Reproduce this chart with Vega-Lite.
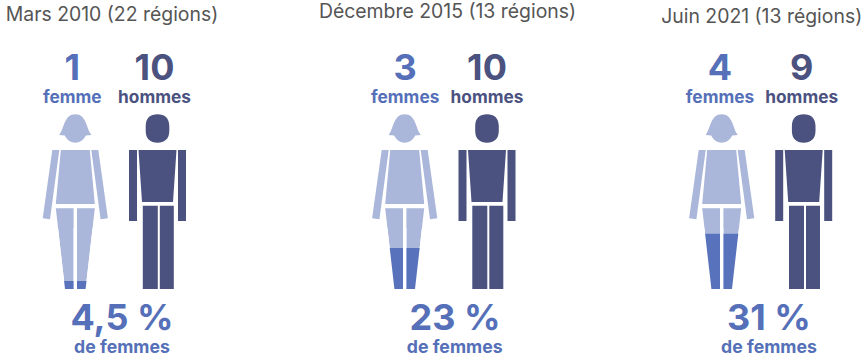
{"$schema":"https://vega.github.io/schema/vega-lite/v6.json","padding":0,"spacing":0,"bounds":"flush","background":"white","config":{"view":{"stroke":null},"axis":{"disable":true},"text":{"font":"Inter"}},
"data":{"values":[
{"periode":"Mars 2010 (22 régions)","sexe":"femmes","nombre":1,"libelle":"femme","part":4.5,"part_texte":"4,5 %"},
{"periode":"Mars 2010 (22 régions)","sexe":"hommes","nombre":10,"libelle":"hommes","part":95.5,"part_texte":"95,5 %"},
{"periode":"Décembre 2015 (13 régions)","sexe":"femmes","nombre":3,"libelle":"femmes","part":23,"part_texte":"23 %"},
{"periode":"Décembre 2015 (13 régions)","sexe":"hommes","nombre":10,"libelle":"hommes","part":77,"part_texte":"77 %"},
{"periode":"Juin 2021 (13 régions)","sexe":"femmes","nombre":4,"libelle":"femmes","part":31,"part_texte":"31 %"},
{"periode":"Juin 2021 (13 régions)","sexe":"hommes","nombre":9,"libelle":"hommes","part":69,"part_texte":"69 %"}
]},
"hconcat":[
{"width":283,"height":359,"transform":[{"filter":"datum.periode=='Mars 2010 (22 régions)'"}],
"encoding":{"x":{"field":"sexe","type":"nominal","scale":{"type":"point","padding":0,"domain":["femmes","hommes"],"range":[75.3,157.5]}}},
"layer":[
{"transform":[{"filter":"datum.sexe=='femmes'"}],"mark":{"type":"point","filled":true,"opacity":1,"size":40000,"fill":"#AAB7DA","strokeWidth":0,"shape":"M -0.16 -0.65 L -0.155 -0.66 C -0.11 -0.72 -0.11 -0.857 0 -0.857 C 0.11 -0.857 0.11 -0.72 0.155 -0.66 L 0.16 -0.65 L 0.105 -0.645 C 0.08 -0.595 0.04 -0.573 0 -0.573 C -0.04 -0.573 -0.08 -0.595 -0.105 -0.645 Z M -0.145 -0.5 L 0.145 -0.5 L 0.195 0.04 L -0.195 0.04 Z M -0.23 -0.5 L -0.16 -0.5 L -0.253 0.193 L -0.326 0.183 Z M 0.16 -0.5 L 0.23 -0.5 L 0.326 0.183 L 0.253 0.193 Z M -0.195 0.083 L -0.017 0.083 L -0.017 0.89 L -0.103 0.89 Z M 0.017 0.083 L 0.195 0.083 L 0.103 0.89 L 0.017 0.89 Z"},"encoding":{"y":{"datum":50,"type":"quantitative","scale":{"domain":[-39.326,162.36],"nice":false,"zero":false}}}},
{"transform":[{"filter":"datum.sexe=='femmes'"}],"mark":{"type":"bar","size":36,"fill":"#5873BC"},"encoding":{"y":{"field":"part","type":"quantitative","stack":null,"scale":{"domain":[-39.326,162.36],"nice":false,"zero":false}}}},
{"transform":[{"filter":"datum.sexe=='femmes'"}],"mark":{"type":"point","filled":true,"opacity":1,"size":40000,"fill":"white","strokeWidth":0,"shape":"M -0.19 0.28 L -0.1725 0.28 L -0.103 0.89 L -0.103 0.9 L -0.19 0.9 Z M -0.017 0.28 L 0.017 0.28 L 0.017 0.9 L -0.017 0.9 Z M 0.1725 0.28 L 0.19 0.28 L 0.19 0.9 L 0.103 0.9 L 0.103 0.89 Z"},"encoding":{"y":{"datum":50,"type":"quantitative","scale":{"domain":[-39.326,162.36],"nice":false,"zero":false}}}},
{"transform":[{"filter":"datum.sexe=='hommes'"}],"mark":{"type":"point","filled":true,"opacity":1,"size":40000,"fill":"#4B527F","strokeWidth":0,"shape":"M -0.118 -0.74 C -0.118 -0.82 -0.07 -0.857 0 -0.857 C 0.07 -0.857 0.118 -0.82 0.118 -0.74 L 0.118 -0.69 C 0.118 -0.61 0.07 -0.573 0 -0.573 C -0.07 -0.573 -0.118 -0.61 -0.118 -0.69 Z M -0.19 -0.5 L 0.19 -0.5 L 0.155 0.02 L -0.155 0.02 Z M -0.285 -0.5 L -0.205 -0.5 L -0.205 0.21 L -0.285 0.21 Z M 0.205 -0.5 L 0.285 -0.5 L 0.285 0.21 L 0.205 0.21 Z M -0.147 0.057 L 0.003 0.057 L 0.003 0.89 L -0.147 0.89 Z M 0.023 0.057 L 0.163 0.057 L 0.163 0.89 L 0.023 0.89 Z"},"encoding":{"y":{"datum":50,"type":"quantitative","scale":{"domain":[-39.326,162.36],"nice":false,"zero":false}}}},
{"transform":[{"filter":"datum.sexe=='femmes'"}],"mark":{"type":"text","font":"Inter","fontWeight":"bold","fontSize":36,"dx":-3,"align":"center","baseline":"alphabetic","fill":"#5570B8"},"encoding":{"text":{"field":"nombre"},"y":{"datum":117.4,"type":"quantitative","scale":{"domain":[-39.326,162.36],"nice":false,"zero":false}}}},
{"transform":[{"filter":"datum.sexe=='hommes'"}],"mark":{"type":"text","font":"Inter","fontWeight":"bold","fontSize":36,"dx":-3,"align":"center","baseline":"alphabetic","fill":"#4B527F"},"encoding":{"text":{"field":"nombre"},"y":{"datum":117.4,"type":"quantitative","scale":{"domain":[-39.326,162.36],"nice":false,"zero":false}}}},
{"transform":[{"filter":"datum.sexe=='femmes'"}],"mark":{"type":"text","font":"Inter","fontWeight":"bold","fontSize":17.3,"dx":-3,"align":"center","baseline":"alphabetic","fill":"#5570B8"},"encoding":{"text":{"field":"libelle"},"y":{"datum":104.7,"type":"quantitative","scale":{"domain":[-39.326,162.36],"nice":false,"zero":false}}}},
{"transform":[{"filter":"datum.sexe=='hommes'"}],"mark":{"type":"text","font":"Inter","fontWeight":"bold","fontSize":17.3,"dx":-3,"align":"center","baseline":"alphabetic","fill":"#4B527F"},"encoding":{"text":{"field":"libelle"},"y":{"datum":104.7,"type":"quantitative","scale":{"domain":[-39.326,162.36],"nice":false,"zero":false}}}},
{"transform":[{"filter":"datum.sexe=='femmes'"}],"mark":{"type":"text","font":"Inter","fontWeight":"bold","fontSize":36,"dx":46.7,"align":"center","baseline":"alphabetic","fill":"#5570B8"},"encoding":{"text":{"field":"part_texte"},"y":{"datum":-23,"type":"quantitative","scale":{"domain":[-39.326,162.36],"nice":false,"zero":false}}}},
{"transform":[{"filter":"datum.sexe=='femmes'"}],"mark":{"type":"text","font":"Inter","fontWeight":"bold","fontSize":17.7,"dx":46.7,"align":"center","baseline":"alphabetic","fill":"#5570B8","text":"de femmes"},"encoding":{"y":{"datum":-35.8,"type":"quantitative","scale":{"domain":[-39.326,162.36],"nice":false,"zero":false}}}},
{"transform":[{"filter":"datum.sexe=='femmes'"}],"mark":{"type":"text","font":"Inter","fontSize":19.4,"dx":36.7,"align":"center","baseline":"alphabetic","fill":"#555555"},"encoding":{"text":{"field":"periode"},"y":{"datum":150.6,"type":"quantitative","scale":{"domain":[-39.326,162.36],"nice":false,"zero":false}}}}
]},
{"width":290,"height":359,"transform":[{"filter":"datum.periode=='Décembre 2015 (13 régions)'"}],
"encoding":{"x":{"field":"sexe","type":"nominal","scale":{"type":"point","padding":0,"domain":["femmes","hommes"],"range":[121.7,204]}}},
"layer":[
{"transform":[{"filter":"datum.sexe=='femmes'"}],"mark":{"type":"point","filled":true,"opacity":1,"size":40000,"fill":"#AAB7DA","strokeWidth":0,"shape":"M -0.16 -0.65 L -0.155 -0.66 C -0.11 -0.72 -0.11 -0.857 0 -0.857 C 0.11 -0.857 0.11 -0.72 0.155 -0.66 L 0.16 -0.65 L 0.105 -0.645 C 0.08 -0.595 0.04 -0.573 0 -0.573 C -0.04 -0.573 -0.08 -0.595 -0.105 -0.645 Z M -0.145 -0.5 L 0.145 -0.5 L 0.195 0.04 L -0.195 0.04 Z M -0.23 -0.5 L -0.16 -0.5 L -0.253 0.193 L -0.326 0.183 Z M 0.16 -0.5 L 0.23 -0.5 L 0.326 0.183 L 0.253 0.193 Z M -0.195 0.083 L -0.017 0.083 L -0.017 0.89 L -0.103 0.89 Z M 0.017 0.083 L 0.195 0.083 L 0.103 0.89 L 0.017 0.89 Z"},"encoding":{"y":{"datum":50,"type":"quantitative","scale":{"domain":[-39.326,162.36],"nice":false,"zero":false}}}},
{"transform":[{"filter":"datum.sexe=='femmes'"}],"mark":{"type":"bar","size":36,"fill":"#5873BC"},"encoding":{"y":{"field":"part","type":"quantitative","stack":null,"scale":{"domain":[-39.326,162.36],"nice":false,"zero":false}}}},
{"transform":[{"filter":"datum.sexe=='femmes'"}],"mark":{"type":"point","filled":true,"opacity":1,"size":40000,"fill":"white","strokeWidth":0,"shape":"M -0.19 0.28 L -0.1725 0.28 L -0.103 0.89 L -0.103 0.9 L -0.19 0.9 Z M -0.017 0.28 L 0.017 0.28 L 0.017 0.9 L -0.017 0.9 Z M 0.1725 0.28 L 0.19 0.28 L 0.19 0.9 L 0.103 0.9 L 0.103 0.89 Z"},"encoding":{"y":{"datum":50,"type":"quantitative","scale":{"domain":[-39.326,162.36],"nice":false,"zero":false}}}},
{"transform":[{"filter":"datum.sexe=='hommes'"}],"mark":{"type":"point","filled":true,"opacity":1,"size":40000,"fill":"#4B527F","strokeWidth":0,"shape":"M -0.118 -0.74 C -0.118 -0.82 -0.07 -0.857 0 -0.857 C 0.07 -0.857 0.118 -0.82 0.118 -0.74 L 0.118 -0.69 C 0.118 -0.61 0.07 -0.573 0 -0.573 C -0.07 -0.573 -0.118 -0.61 -0.118 -0.69 Z M -0.19 -0.5 L 0.19 -0.5 L 0.155 0.02 L -0.155 0.02 Z M -0.285 -0.5 L -0.205 -0.5 L -0.205 0.21 L -0.285 0.21 Z M 0.205 -0.5 L 0.285 -0.5 L 0.285 0.21 L 0.205 0.21 Z M -0.147 0.057 L 0.003 0.057 L 0.003 0.89 L -0.147 0.89 Z M 0.023 0.057 L 0.163 0.057 L 0.163 0.89 L 0.023 0.89 Z"},"encoding":{"y":{"datum":50,"type":"quantitative","scale":{"domain":[-39.326,162.36],"nice":false,"zero":false}}}},
{"transform":[{"filter":"datum.sexe=='femmes'"}],"mark":{"type":"text","font":"Inter","fontWeight":"bold","fontSize":36,"dx":0.5,"align":"center","baseline":"alphabetic","fill":"#5570B8"},"encoding":{"text":{"field":"nombre"},"y":{"datum":117.4,"type":"quantitative","scale":{"domain":[-39.326,162.36],"nice":false,"zero":false}}}},
{"transform":[{"filter":"datum.sexe=='hommes'"}],"mark":{"type":"text","font":"Inter","fontWeight":"bold","fontSize":36,"dx":0,"align":"center","baseline":"alphabetic","fill":"#4B527F"},"encoding":{"text":{"field":"nombre"},"y":{"datum":117.4,"type":"quantitative","scale":{"domain":[-39.326,162.36],"nice":false,"zero":false}}}},
{"transform":[{"filter":"datum.sexe=='femmes'"}],"mark":{"type":"text","font":"Inter","fontWeight":"bold","fontSize":17.3,"dx":0.5,"align":"center","baseline":"alphabetic","fill":"#5570B8"},"encoding":{"text":{"field":"libelle"},"y":{"datum":104.7,"type":"quantitative","scale":{"domain":[-39.326,162.36],"nice":false,"zero":false}}}},
{"transform":[{"filter":"datum.sexe=='hommes'"}],"mark":{"type":"text","font":"Inter","fontWeight":"bold","fontSize":17.3,"dx":0,"align":"center","baseline":"alphabetic","fill":"#4B527F"},"encoding":{"text":{"field":"libelle"},"y":{"datum":104.7,"type":"quantitative","scale":{"domain":[-39.326,162.36],"nice":false,"zero":false}}}},
{"transform":[{"filter":"datum.sexe=='femmes'"}],"mark":{"type":"text","font":"Inter","fontWeight":"bold","fontSize":36,"dx":50.3,"align":"center","baseline":"alphabetic","fill":"#5570B8"},"encoding":{"text":{"field":"part_texte"},"y":{"datum":-23,"type":"quantitative","scale":{"domain":[-39.326,162.36],"nice":false,"zero":false}}}},
{"transform":[{"filter":"datum.sexe=='femmes'"}],"mark":{"type":"text","font":"Inter","fontWeight":"bold","fontSize":17.7,"dx":50,"align":"center","baseline":"alphabetic","fill":"#5570B8","text":"de femmes"},"encoding":{"y":{"datum":-35.8,"type":"quantitative","scale":{"domain":[-39.326,162.36],"nice":false,"zero":false}}}},
{"transform":[{"filter":"datum.sexe=='femmes'"}],"mark":{"type":"text","font":"Inter","fontSize":19.4,"dx":42.8,"align":"center","baseline":"alphabetic","fill":"#555555"},"encoding":{"text":{"field":"periode"},"y":{"datum":152.2,"type":"quantitative","scale":{"domain":[-39.326,162.36],"nice":false,"zero":false}}}}
]},
{"width":293,"height":359,"transform":[{"filter":"datum.periode=='Juin 2021 (13 régions)'"}],
"encoding":{"x":{"field":"sexe","type":"nominal","scale":{"type":"point","padding":0,"domain":["femmes","hommes"],"range":[148.7,230.7]}}},
"layer":[
{"transform":[{"filter":"datum.sexe=='femmes'"}],"mark":{"type":"point","filled":true,"opacity":1,"size":40000,"fill":"#AAB7DA","strokeWidth":0,"shape":"M -0.16 -0.65 L -0.155 -0.66 C -0.11 -0.72 -0.11 -0.857 0 -0.857 C 0.11 -0.857 0.11 -0.72 0.155 -0.66 L 0.16 -0.65 L 0.105 -0.645 C 0.08 -0.595 0.04 -0.573 0 -0.573 C -0.04 -0.573 -0.08 -0.595 -0.105 -0.645 Z M -0.145 -0.5 L 0.145 -0.5 L 0.195 0.04 L -0.195 0.04 Z M -0.23 -0.5 L -0.16 -0.5 L -0.253 0.193 L -0.326 0.183 Z M 0.16 -0.5 L 0.23 -0.5 L 0.326 0.183 L 0.253 0.193 Z M -0.195 0.083 L -0.017 0.083 L -0.017 0.89 L -0.103 0.89 Z M 0.017 0.083 L 0.195 0.083 L 0.103 0.89 L 0.017 0.89 Z"},"encoding":{"y":{"datum":50,"type":"quantitative","scale":{"domain":[-39.326,162.36],"nice":false,"zero":false}}}},
{"transform":[{"filter":"datum.sexe=='femmes'"}],"mark":{"type":"bar","size":36,"fill":"#5873BC"},"encoding":{"y":{"field":"part","type":"quantitative","stack":null,"scale":{"domain":[-39.326,162.36],"nice":false,"zero":false}}}},
{"transform":[{"filter":"datum.sexe=='femmes'"}],"mark":{"type":"point","filled":true,"opacity":1,"size":40000,"fill":"white","strokeWidth":0,"shape":"M -0.19 0.28 L -0.1725 0.28 L -0.103 0.89 L -0.103 0.9 L -0.19 0.9 Z M -0.017 0.28 L 0.017 0.28 L 0.017 0.9 L -0.017 0.9 Z M 0.1725 0.28 L 0.19 0.28 L 0.19 0.9 L 0.103 0.9 L 0.103 0.89 Z"},"encoding":{"y":{"datum":50,"type":"quantitative","scale":{"domain":[-39.326,162.36],"nice":false,"zero":false}}}},
{"transform":[{"filter":"datum.sexe=='hommes'"}],"mark":{"type":"point","filled":true,"opacity":1,"size":40000,"fill":"#4B527F","strokeWidth":0,"shape":"M -0.118 -0.74 C -0.118 -0.82 -0.07 -0.857 0 -0.857 C 0.07 -0.857 0.118 -0.82 0.118 -0.74 L 0.118 -0.69 C 0.118 -0.61 0.07 -0.573 0 -0.573 C -0.07 -0.573 -0.118 -0.61 -0.118 -0.69 Z M -0.19 -0.5 L 0.19 -0.5 L 0.155 0.02 L -0.155 0.02 Z M -0.285 -0.5 L -0.205 -0.5 L -0.205 0.21 L -0.285 0.21 Z M 0.205 -0.5 L 0.285 -0.5 L 0.285 0.21 L 0.205 0.21 Z M -0.147 0.057 L 0.003 0.057 L 0.003 0.89 L -0.147 0.89 Z M 0.023 0.057 L 0.163 0.057 L 0.163 0.89 L 0.023 0.89 Z"},"encoding":{"y":{"datum":50,"type":"quantitative","scale":{"domain":[-39.326,162.36],"nice":false,"zero":false}}}},
{"transform":[{"filter":"datum.sexe=='femmes'"}],"mark":{"type":"text","font":"Inter","fontWeight":"bold","fontSize":36,"dx":-1.7,"align":"center","baseline":"alphabetic","fill":"#5570B8"},"encoding":{"text":{"field":"nombre"},"y":{"datum":117.4,"type":"quantitative","scale":{"domain":[-39.326,162.36],"nice":false,"zero":false}}}},
{"transform":[{"filter":"datum.sexe=='hommes'"}],"mark":{"type":"text","font":"Inter","fontWeight":"bold","fontSize":36,"dx":-2,"align":"center","baseline":"alphabetic","fill":"#4B527F"},"encoding":{"text":{"field":"nombre"},"y":{"datum":117.4,"type":"quantitative","scale":{"domain":[-39.326,162.36],"nice":false,"zero":false}}}},
{"transform":[{"filter":"datum.sexe=='femmes'"}],"mark":{"type":"text","font":"Inter","fontWeight":"bold","fontSize":17.3,"dx":-1.7,"align":"center","baseline":"alphabetic","fill":"#5570B8"},"encoding":{"text":{"field":"libelle"},"y":{"datum":104.7,"type":"quantitative","scale":{"domain":[-39.326,162.36],"nice":false,"zero":false}}}},
{"transform":[{"filter":"datum.sexe=='hommes'"}],"mark":{"type":"text","font":"Inter","fontWeight":"bold","fontSize":17.3,"dx":-2,"align":"center","baseline":"alphabetic","fill":"#4B527F"},"encoding":{"text":{"field":"libelle"},"y":{"datum":104.7,"type":"quantitative","scale":{"domain":[-39.326,162.36],"nice":false,"zero":false}}}},
{"transform":[{"filter":"datum.sexe=='femmes'"}],"mark":{"type":"text","font":"Inter","fontWeight":"bold","fontSize":36,"dx":47.3,"align":"center","baseline":"alphabetic","fill":"#5570B8"},"encoding":{"text":{"field":"part_texte"},"y":{"datum":-23,"type":"quantitative","scale":{"domain":[-39.326,162.36],"nice":false,"zero":false}}}},
{"transform":[{"filter":"datum.sexe=='femmes'"}],"mark":{"type":"text","font":"Inter","fontWeight":"bold","fontSize":17.7,"dx":47.3,"align":"center","baseline":"alphabetic","fill":"#5570B8","text":"de femmes"},"encoding":{"y":{"datum":-35.8,"type":"quantitative","scale":{"domain":[-39.326,162.36],"nice":false,"zero":false}}}},
{"transform":[{"filter":"datum.sexe=='femmes'"}],"mark":{"type":"text","font":"Inter","fontSize":19.4,"dx":40,"align":"center","baseline":"alphabetic","fill":"#555555"},"encoding":{"text":{"field":"periode"},"y":{"datum":149.4,"type":"quantitative","scale":{"domain":[-39.326,162.36],"nice":false,"zero":false}}}}
]}
]}
